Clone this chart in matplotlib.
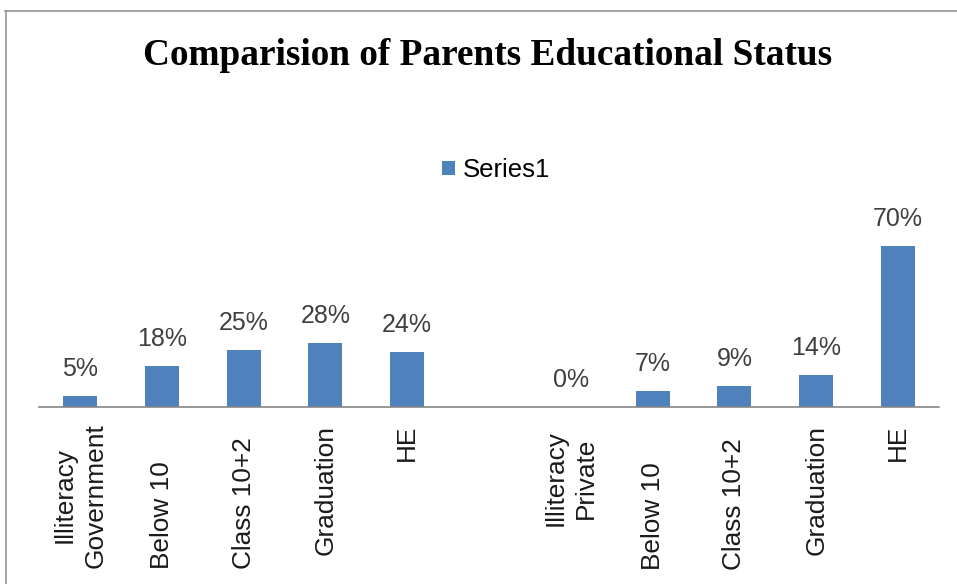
import numpy as np
import matplotlib
matplotlib.use("Agg")
import matplotlib.pyplot as plt
from matplotlib.lines import Line2D
from matplotlib.transforms import offset_copy

# Category labels (the blank entry separates the two school groups)
categories = ["Illiteracy\nGovernment", "Below 10", "Class 10+2", "Graduation", "HE",
              "",
              "Illiteracy\nPrivate", "Below 10", "Class 10+2", "Graduation", "HE"]
# Percentages per category (nan = no bar)
values = [5, 18, 25, 28, 24, np.nan, 0, 7, 9, 14, 70]
series_name = "Series1"
title = "Comparision of Parents Educational Status"

# Distance (pixels) from the axis line to the upper end of each rotated label
label_drop_px = [16, 54, 30, 18, 18, 0, 23, 55, 31, 18, 18]

W, H, DPI = 957, 584, 100
fig = plt.figure(figsize=(W / DPI, H / DPI), dpi=DPI)
fig.patch.set_facecolor("white")

ax = fig.add_axes([39 / W, (H - 407) / H, 900 / W, 184 / H])
x = np.arange(len(categories))
bar_color = "#4F81BD"
ax.bar(x, values, width=0.415, color=bar_color, label=series_name, zorder=2)

ax.set_xlim(-0.5, len(categories) - 0.5)
ax.set_ylim(0, 80)
for side in ("top", "right", "left"):
    ax.spines[side].set_visible(False)
ax.spines["bottom"].set_color("#868686")
ax.spines["bottom"].set_linewidth(1.2)
ax.set_yticks([])
ax.set_xticks([])

# Value labels above each bar
for xi, v in zip(x, values):
    if np.isnan(v):
        continue
    ax.annotate(f"{v:g}%", xy=(xi, v), xytext=(0, 14.4), textcoords="offset points",
                ha="center", va="baseline", fontsize=18, color="#404040",
                family="Liberation Sans")

# Rotated category labels under the axis
for xi, lab, drop in zip(x, categories, label_drop_px):
    if not lab:
        continue
    tr = offset_copy(ax.get_xaxis_transform(), fig=fig, x=0, y=-drop, units="dots")
    ax.text(xi, 0, lab, transform=tr, rotation=90, ha="center", va="top",
            multialignment="center", linespacing=1.35, fontsize=18.9,
            color="#1a1a1a", family="Liberation Sans")

# Legend
fig.legend(loc="center", bbox_to_anchor=(496 / W, 1 - 170 / H), frameon=False,
           prop={"family": "Liberation Sans", "size": 18.5},
           handlelength=0.5, handleheight=0.5, handletextpad=0.3)

# Title
fig.text(487.5 / W, 1 - 65 / H, title, ha="center", va="baseline",
         fontsize=26.8, fontweight="bold", family="Liberation Serif", color="black")

# Chart frame (top and left edges)
fig.add_artist(Line2D([5 / W, 1.0], [1 - 10.5 / H, 1 - 10.5 / H], transform=fig.transFigure,
                      color="#8c8c8c", lw=1.1))
fig.add_artist(Line2D([5.5 / W, 5.5 / W], [0, 1 - 10.5 / H], transform=fig.transFigure,
                      color="#8c8c8c", lw=1.1))

fig.savefig("out.png", dpi=DPI)
